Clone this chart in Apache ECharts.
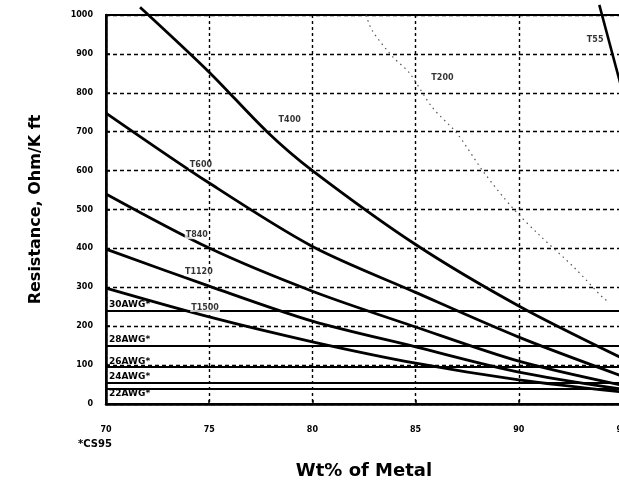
<!DOCTYPE html>
<html><head><meta charset="utf-8">
<script src="https://cdn.jsdelivr.net/npm/echarts@6/dist/echarts.min.js"></script>
<style>html,body{margin:0;padding:0;overflow:hidden;background:#fff}#c{width:619px;height:494px}</style>
</head><body><div id="c"></div>
<script>
// ---- data ----
const xTicks = [70, 75, 80, 85, 90, 95];
const yTicks = [0, 100, 200, 300, 400, 500, 600, 700, 800, 900, 1000];
const curveNames = ['T400', 'T600', 'T840', 'T1120', 'T1500'];
const t400 = [[71.65, 1020], [75, 853], [77.8, 700], [80, 600], [85, 410], [90, 252], [95, 118]];
const t600 = [[70, 748], [75, 568], [80, 405], [85, 287], [90, 172], [95, 72]];
const t840 = [[70, 540], [75, 401], [80, 290], [85, 198], [90, 110], [95, 48]];
const t1120 = [[70, 398], [75, 303], [80, 213], [85, 147], [90, 82], [95, 38]];
const t1500 = [[70, 298], [75, 224], [80, 160], [85, 105], [90, 62], [95, 31]];
const t200 = [[82.6, 1000], [82.9, 960], [83.9, 892], [84.7, 851], [85.8, 763], [87.0, 696], [88.3, 596], [89.7, 504], [91.0, 434], [92.7, 350], [94.1, 272], [94.4, 262]];
const t55 = [[93.9, 1026], [95, 808]];
const awgNames = ['30AWG*', '28AWG*', '26AWG*', '24AWG*', '22AWG*'];
const awgValues = [240, 150, 95, 55, 40];
const labelNames = ['T55', 'T200', 'T400', 'T600', 'T840', 'T1120', 'T1500'];
const labelAt = [[93.7, 936], [86.3, 838], [78.9, 730], [74.6, 614], [74.4, 434], [74.5, 339], [74.8, 247]];

const FONT = 'DejaVu Sans';
const curves = [t400, t600, t840, t1120, t1500];

const series = curves.map((d, i) => ({
  name: curveNames[i], type: 'line', data: d, smooth: 0.3, symbol: 'none', clip: false, z: 4,
  lineStyle: { color: '#000', width: 2.8 }
}));
series.push({
  name: 'T200', type: 'line', data: t200, smooth: 0.3, symbol: 'none', z: 3,
  lineStyle: { color: '#555', width: 1.2, type: [1.5, 4] }
});
series.push({
  name: 'T55', type: 'line', data: t55, symbol: 'none', clip: false, z: 4,
  lineStyle: { color: '#000', width: 2.6 }
});
series.push({
  name: 'awg', type: 'line', data: [], symbol: 'none',
  markLine: {
    silent: true, symbol: ['none', 'none'], animation: false,
    lineStyle: { type: 'solid', color: '#000', width: 2 },
    label: { position: 'insideStartTop', formatter: '{b}', distance: [3, 1], color: '#000', fontFamily: FONT, fontWeight: 'bold', fontSize: 9 },
    data: awgValues.map((v, i) => ({
      yAxis: v, name: awgNames[i],
      label: i === awgValues.length - 1 ? { position: 'insideStartBottom' } : {}
    }))
  }
});
series.push({
  name: 'labels', type: 'scatter', symbolSize: 1, itemStyle: { color: 'rgba(0,0,0,0)' }, z: 6,
  data: labelAt.map((p, i) => ({ value: p, name: labelNames[i] })),
  label: { show: true, position: 'inside', formatter: '{b}', color: '#000', fontFamily: FONT, fontWeight: 'bold', fontSize: 8, backgroundColor: '#fff', padding: [0, 1] }
});

const chart = echarts.init(document.getElementById('c'), null, { renderer: 'canvas' });
chart.setOption({
  animation: false,
  backgroundColor: '#fff',
  grid: { left: 106, top: 15, right: -3, bottom: 90, containLabel: false, outerBoundsMode: 'none', show: true, borderColor: '#000', borderWidth: 2, backgroundColor: 'transparent' },
  xAxis: {
    type: 'value', min: xTicks[0], max: xTicks[xTicks.length - 1], interval: 5,
    axisLine: { lineStyle: { color: '#000', width: 2.5 } },
    axisTick: { inside: true, length: 4, lineStyle: { color: '#000', width: 1.5 } },
    axisLabel: { margin: 22, color: '#000', fontFamily: FONT, fontWeight: 'bold', fontSize: 8 },
    splitLine: { show: true, lineStyle: { color: '#000', width: 1.4, type: [3, 3] } },
    name: 'Wt% of Metal', nameLocation: 'middle', nameGap: 58,
    nameTextStyle: { color: '#000', fontFamily: FONT, fontWeight: 'bold', fontSize: 18 }
  },
  yAxis: {
    type: 'value', min: yTicks[0], max: yTicks[yTicks.length - 1], interval: 100,
    axisLine: { show: true, lineStyle: { color: '#000', width: 2.5 } },
    axisTick: { show: true, inside: true, length: 4, lineStyle: { color: '#000', width: 1.5 } },
    axisLabel: { margin: 13, color: '#000', fontFamily: FONT, fontWeight: 'bold', fontSize: 8, formatter: v => String(v) },
    splitLine: { show: true, lineStyle: { color: '#000', width: 1.4, type: [4, 3] } },
    name: 'Resistance, Ohm/K ft', nameLocation: 'middle', nameGap: 62, nameRotate: 90,
    nameTextStyle: { color: '#000', fontFamily: FONT, fontWeight: 'bold', fontSize: 16 }
  },
  graphic: [{
    type: 'text', left: 78, top: 439,
    style: { text: '*CS95', font: 'bold 10px "DejaVu Sans"', fill: '#000' }
  }],
  series: series
});
</script>
</body></html>
